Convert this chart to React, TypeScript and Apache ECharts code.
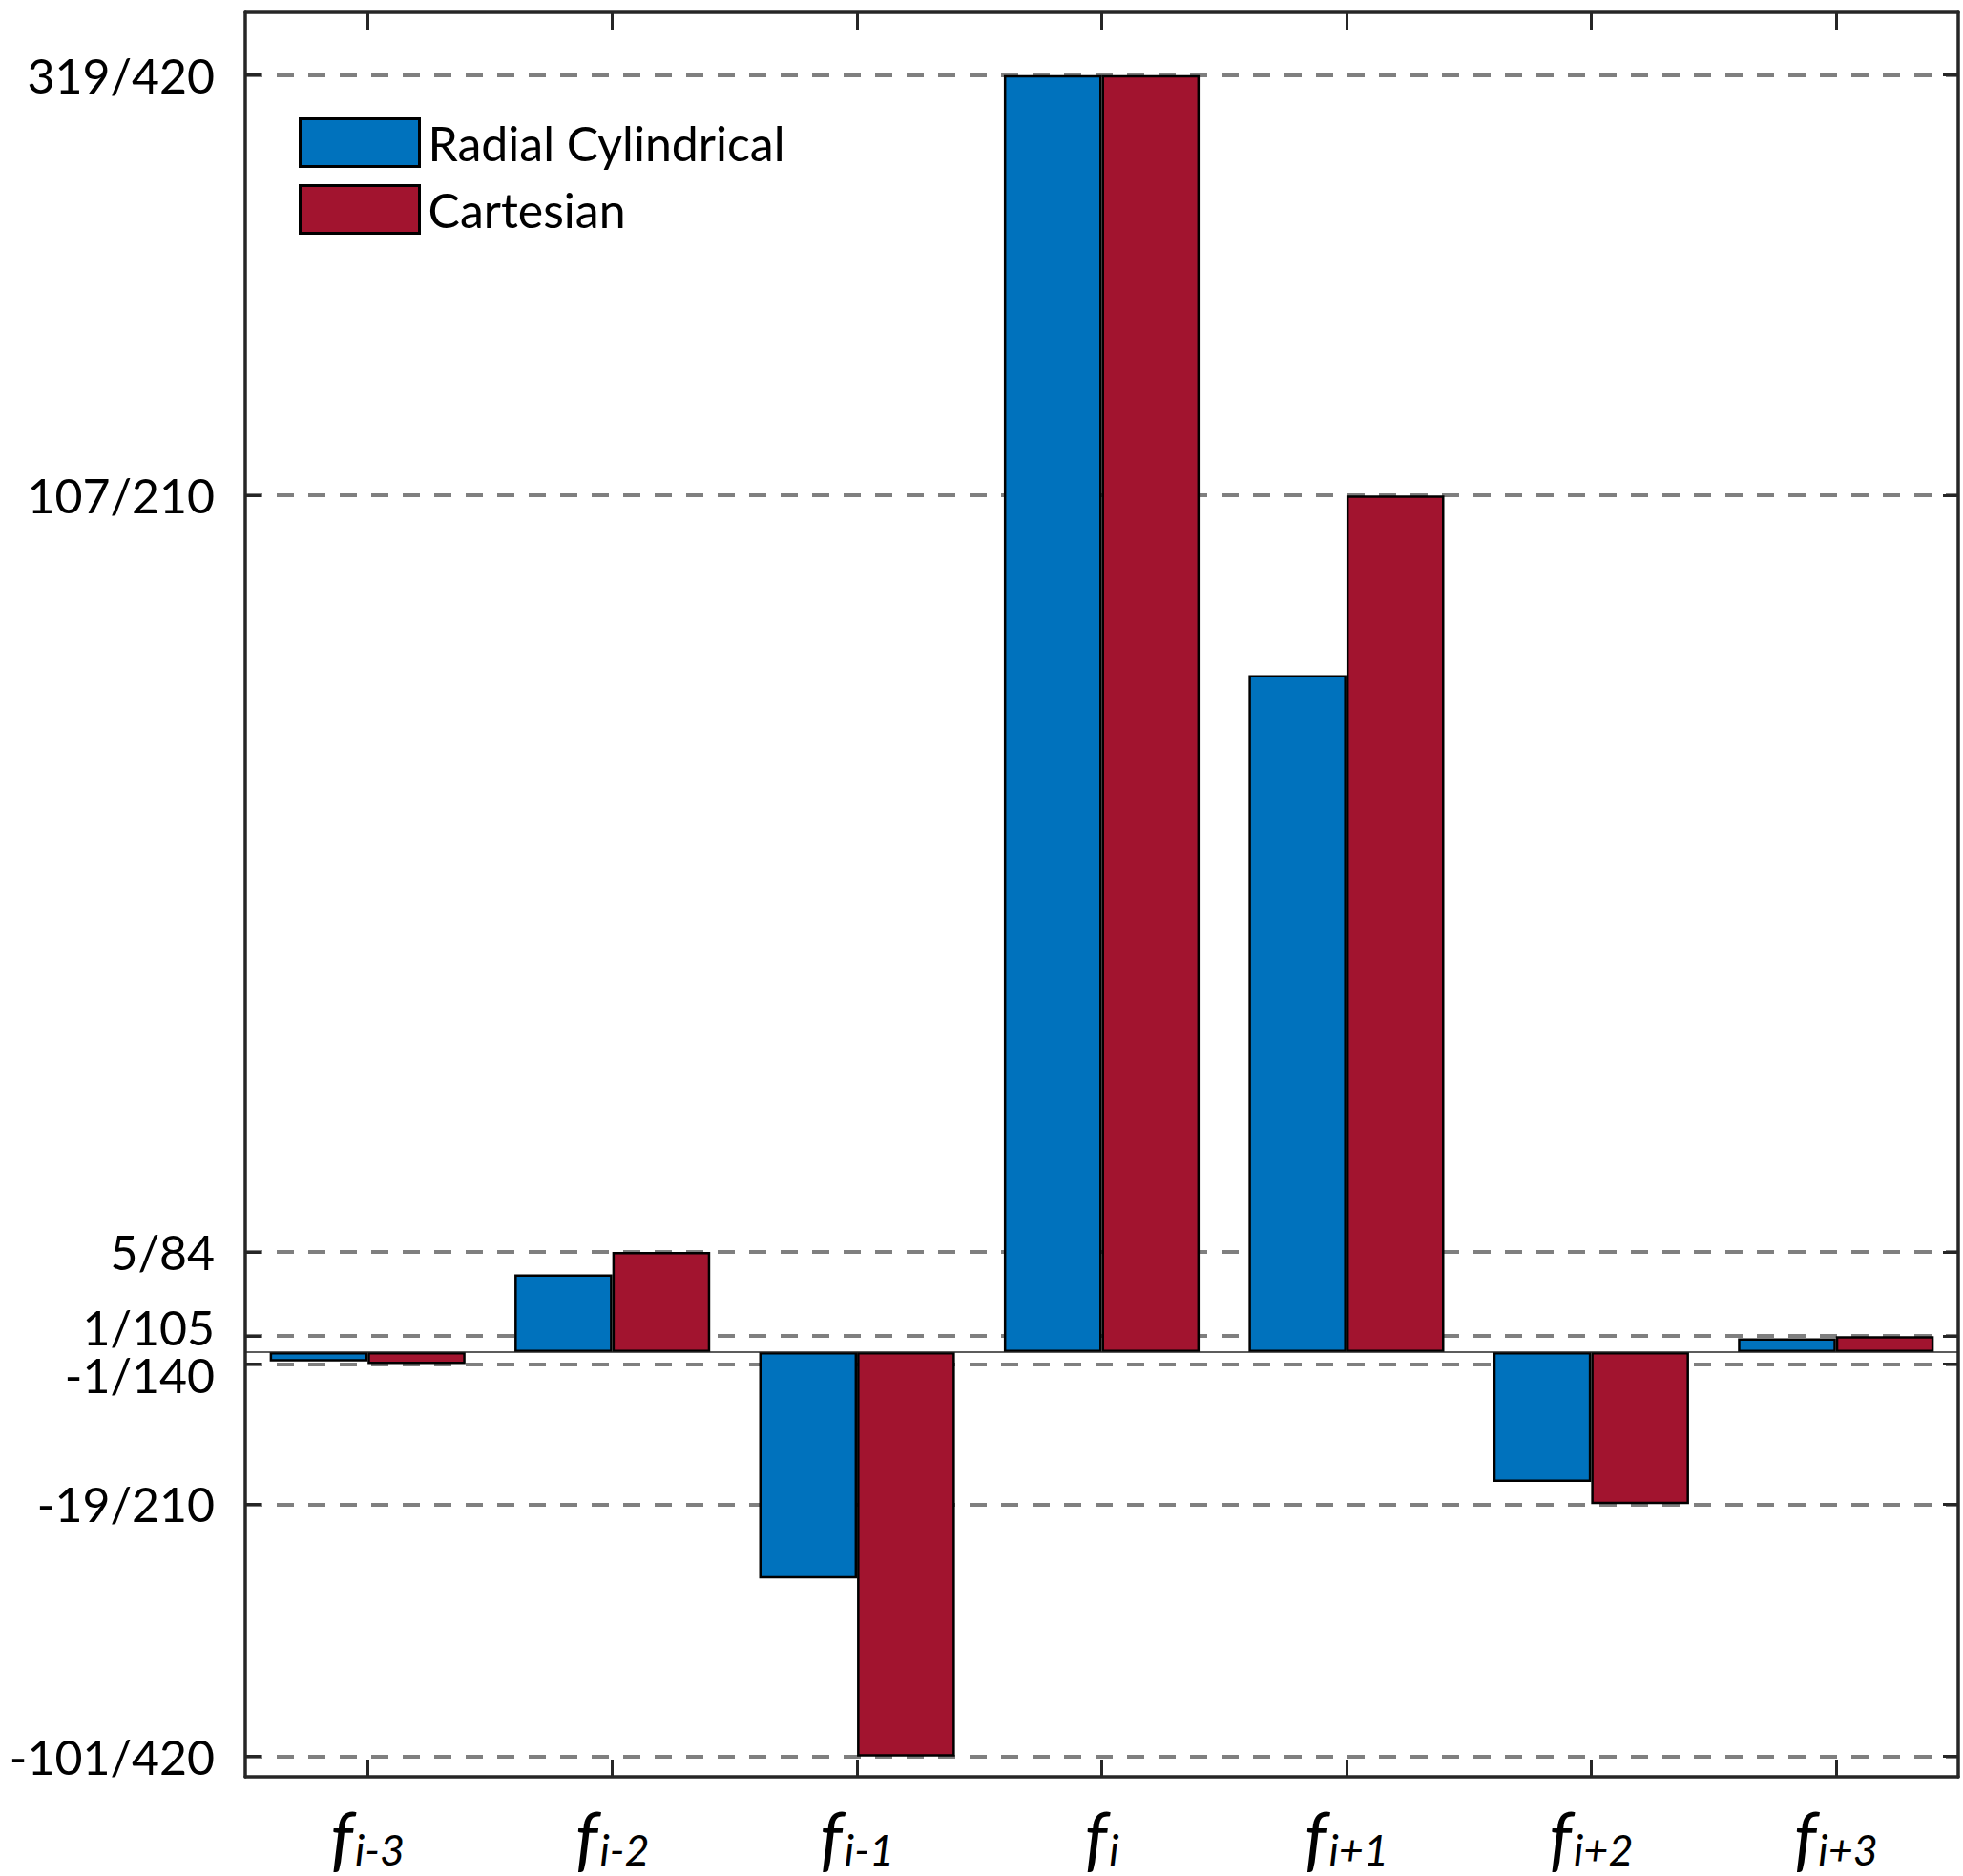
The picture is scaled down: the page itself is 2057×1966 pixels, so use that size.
import React, { useEffect, useRef } from "react";
import * as echarts from "echarts";

const categories = ["i-3", "i-2", "i-1", "i", "i+1", "i+2", "i+3"];
const radialCylindrical = [-0.0056, 0.0462, -0.1347, 319 / 420, 0.4027, -0.0772, 0.0082];
const cartesian = [-1 / 140, 5 / 84, -101 / 420, 319 / 420, 107 / 210, -19 / 210, 1 / 105];
const tickValues = [319 / 420, 107 / 210, 5 / 84, 1 / 105, -1 / 140, -19 / 210, -101 / 420];
const tickLabels = ["319/420", "107/210", "5/84", "1/105", "-1/140", "-19/210", "-101/420"];

const FONT = "Lato";

function labelFor(v: number): string {
  let best = 0;
  let d = Infinity;
  tickValues.forEach((t, i) => {
    const dd = Math.abs(t - v);
    if (dd < d) {
      d = dd;
      best = i;
    }
  });
  const s = tickLabels[best];
  if (s === "1/105") return `{up|${s}}`;
  if (s === "-1/140") return `{down|${s}}`;
  return `{n|${s}}`;
}

export default function App() {
  const ref = useRef<HTMLDivElement>(null);
  useEffect(() => {
    document.body.style.margin = "0";
    const chart = echarts.init(ref.current!, null, { renderer: "svg" });
    const axisColor = "#262626";
    const yMin = -0.2526;
    const yMax = 0.7968;
    const yFont = { fontFamily: FONT, fontSize: 50, color: "#000" };
    chart.setOption({
      animation: false,
      backgroundColor: "#ffffff",
      grid: { left: 257, right: 5, top: 13, bottom: 104, containLabel: false },
      legend: {
        orient: "vertical",
        left: 308,
        top: 118,
        itemWidth: 125,
        itemHeight: 50,
        itemGap: 17,
        icon: "rect",
        textStyle: { fontFamily: FONT, fontSize: 50, color: "#000", padding: [0, 0, 0, 4] },
        itemStyle: { borderColor: "#000", borderWidth: 3 },
        data: ["Radial Cylindrical", "Cartesian"],
      },
      xAxis: [
        {
          type: "category",
          position: "bottom",
          data: categories,
          boundaryGap: true,
          axisLine: { onZero: false, lineStyle: { color: axisColor, width: 3.5 } },
          axisTick: { show: true, inside: true, length: 18, alignWithLabel: true, lineStyle: { color: axisColor, width: 3 } },
          axisLabel: {
            margin: 24,
            formatter: (v: string) => `{f|f}{s|${v}}`,
            rich: {
              f: { fontFamily: FONT, fontStyle: "italic", fontSize: 74, color: "#000" },
              s: { fontFamily: FONT, fontStyle: "italic", fontSize: 45, color: "#000", verticalAlign: "bottom", padding: [0, 0, 0, 2] },
            },
          },
          splitLine: { show: false },
        },
        {
          type: "category",
          position: "top",
          data: categories,
          boundaryGap: true,
          axisLine: { onZero: false, lineStyle: { color: axisColor, width: 3.5 } },
          axisTick: { show: true, inside: true, length: 18, alignWithLabel: true, lineStyle: { color: axisColor, width: 3 } },
          axisLabel: { show: false },
          splitLine: { show: false },
        },
      ],
      yAxis: [
        {
          type: "value",
          position: "left",
          min: yMin,
          max: yMax,
          axisLine: { show: true, onZero: false, lineStyle: { color: axisColor, width: 3.5 } },
          axisTick: { show: true, inside: true, length: 16, customValues: tickValues, lineStyle: { color: axisColor, width: 3 } },
          axisLabel: {
            customValues: tickValues,
            margin: 32,
            ...yFont,
            formatter: (v: number) => labelFor(v),
            rich: {
              n: { ...yFont },
              up: { ...yFont, padding: [0, 0, 18, 0] },
              down: { ...yFont, padding: [22, 0, 0, 0] },
            },
          },
          splitLine: { show: true, lineStyle: { color: "#7f7f7f", width: 4, type: [18, 15] } },
        },
        {
          type: "value",
          position: "right",
          min: yMin,
          max: yMax,
          axisLine: { show: true, onZero: false, lineStyle: { color: axisColor, width: 3.5 } },
          axisTick: { show: true, inside: true, length: 16, customValues: tickValues, lineStyle: { color: axisColor, width: 3 } },
          axisLabel: { show: false },
          splitLine: { show: false },
        },
      ],
      series: [
        {
          name: "Radial Cylindrical",
          type: "bar",
          xAxisIndex: 0,
          yAxisIndex: 0,
          data: radialCylindrical,
          barGap: "0%",
          barCategoryGap: "20%",
          itemStyle: { color: "#0072BD", borderColor: "#000", borderWidth: 2.5 },
          markLine: {
            silent: true,
            symbol: "none",
            label: { show: false },
            lineStyle: { color: "#262626", width: 1.5, type: "solid" },
            data: [{ yAxis: 0 }],
          },
        },
        {
          name: "Cartesian",
          type: "bar",
          xAxisIndex: 0,
          yAxisIndex: 0,
          data: cartesian,
          barGap: "0%",
          barCategoryGap: "20%",
          itemStyle: { color: "#A2142F", borderColor: "#000", borderWidth: 2.5 },
        },
      ],
    });
    return () => chart.dispose();
  }, []);
  return <div ref={ref} style={{ width: 2057, height: 1966 }} />;
}
